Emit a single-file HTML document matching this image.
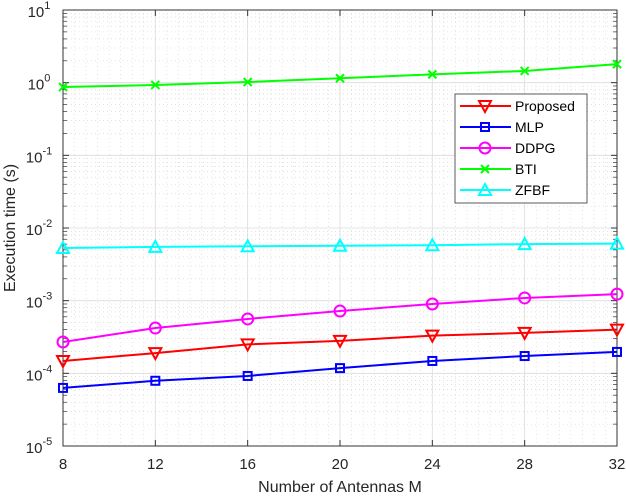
<!DOCTYPE html>
<html><head><meta charset="utf-8"><style>
body{margin:0;background:#fff;font-family:"Liberation Sans",sans-serif}
svg text{font-family:"Liberation Sans",sans-serif}
</style></head><body>
<svg id="chart" width="626" height="498" xmlns="http://www.w3.org/2000/svg"></svg>
<script>
const antennas=[8,12,16,20,24,28,32];
const proposed=[1.48e-4,1.9e-4,2.5e-4,2.8e-4,3.3e-4,3.6e-4,4.0e-4];
const mlp=[6.3e-5,7.9e-5,9.2e-5,1.18e-4,1.48e-4,1.73e-4,1.97e-4];
const ddpg=[2.7e-4,4.2e-4,5.6e-4,7.2e-4,9.0e-4,1.09e-3,1.23e-3];
const bti=[0.87,0.93,1.02,1.15,1.3,1.45,1.8];
const zfbf=[5.3e-3,5.5e-3,5.6e-3,5.7e-3,5.8e-3,6.0e-3,6.1e-3];
const yExps=[-5,-4,-3,-2,-1,0,1];
const seriesNames=["Proposed","MLP","DDPG","BTI","ZFBF"];

const svg=document.getElementById('chart');
const NS="http://www.w3.org/2000/svg";
const L=63,R=617,T=10,B=446;
const xs=v=>L+(v-8)/(32-8)*(R-L);
const ys=v=>B-(Math.log10(v)+5)/6*(B-T);
function mk(tag,attrs,parent){const e=document.createElementNS(NS,tag);for(const k in attrs)e.setAttribute(k,attrs[k]);(parent||svg).appendChild(e);return e;}

const grid=mk('g',{});


for(let v=8;v<=32.001;v+=0.5){const x=xs(v);const major=Math.abs(v%4)<1e-6;
 mk('line',{x1:x,x2:x,y1:T,y2:B,stroke:major?'#dcdcdc':'#d0d0d0','stroke-width':major?0.8:0.6,'stroke-dasharray':major?'':'1,3'},grid);}
for(let e=-5;e<1;e++){for(let m=1;m<10;m++){const y=ys(m*Math.pow(10,e));
 mk('line',{x1:L,x2:R,y1:y,y2:y,stroke:m==1?'#dcdcdc':'#d0d0d0','stroke-width':m==1?0.8:0.6,'stroke-dasharray':m==1?'':'1,3'},grid);
 if(m>1){mk('line',{x1:L,x2:L+4,y1:y,y2:y,stroke:'#333','stroke-width':0.7});mk('line',{x1:R,x2:R-4,y1:y,y2:y,stroke:'#333','stroke-width':0.7});}}}
mk('rect',{x:L,y:T,width:R-L,height:B-T,fill:'none',stroke:'#333','stroke-width':1});

antennas.forEach(a=>{const x=xs(a);
 mk('line',{x1:x,x2:x,y1:B,y2:B-6,stroke:'#333'});mk('line',{x1:x,x2:x,y1:T,y2:T+6,stroke:'#333'});
 const t=mk('text',{x:x,y:B+23,'text-anchor':'middle','font-size':15,fill:'#262626'});t.textContent=a;
 
 });
yExps.forEach(e=>{const y=ys(Math.pow(10,e));
 mk('line',{x1:L,x2:L+6,y1:y,y2:y,stroke:'#333'});mk('line',{x1:R,x2:R-6,y1:y,y2:y,stroke:'#333'});
 const t=mk('text',{x:L-24,y:y+7,'text-anchor':'middle','font-size':15,fill:'#262626'});
 t.innerHTML='10<tspan dy="-8" font-size="11">'+e+'</tspan>';
 
 });

const xt=mk('text',{x:(L+R)/2,y:492,'text-anchor':'middle','font-size':16,fill:'#262626'});xt.textContent='Number of Antennas M';


const yt=mk('text',{x:0,y:0,transform:'translate(15,228) rotate(-90)','text-anchor':'middle','font-size':16,fill:'#262626'});yt.textContent='Execution time (s)';



function marker(type,x,y,c,p){
 if(type=='tri-down')mk('polygon',{points:`${x-6},${y-5} ${x+6},${y-5} ${x},${y+6}`,fill:'none',stroke:c,'stroke-width':2},p);
 else if(type=='square')mk('rect',{x:x-4,y:y-4,width:8,height:8,fill:'none',stroke:c,'stroke-width':2},p);
 else if(type=='circle')mk('circle',{cx:x,cy:y,r:5.5,fill:'none',stroke:c,'stroke-width':2},p);
 else if(type=='x'){mk('line',{x1:x-4,y1:y-4,x2:x+4,y2:y+4,stroke:c,'stroke-width':2},p);mk('line',{x1:x-4,y1:y+4,x2:x+4,y2:y-4,stroke:c,'stroke-width':2},p);}
 else if(type=='tri-up')mk('polygon',{points:`${x-6},${y+5} ${x+6},${y+5} ${x},${y-6}`,fill:'none',stroke:c,'stroke-width':2},p);
}
const all=[[proposed,'#ff0000','tri-down','series-proposed'],[mlp,'#0000ff','square','series-mlp'],[ddpg,'#ff00ff','circle','series-ddpg'],[bti,'#00ff00','x','series-bti'],[zfbf,'#00ffff','tri-up','series-zfbf']];
all.forEach(([d,c,m,n])=>{const g=mk('g',{});
 
 
 mk('polyline',{points:d.map((v,i)=>xs(antennas[i])+','+ys(v)).join(' '),fill:'none',stroke:c,'stroke-width':2},g);
 d.forEach((v,i)=>marker(m,xs(antennas[i]),ys(v),c,g));});

const lg=mk('g',{});


mk('rect',{x:455,y:94,width:132,height:109,fill:'#fff',stroke:'#333','stroke-width':0.8},lg);
all.forEach(([d,c,m,n],i)=>{const y=106+i*21;
 const e=mk('g',{},lg);
 
 
 mk('line',{x1:460,x2:511,y1:y,y2:y,stroke:c,'stroke-width':2},e);marker(m,485,y,c,e);
 const t=mk('text',{x:515,y:y+5,'font-size':14,fill:'#000'},e);t.textContent=seriesNames[i];});
</script>
</body></html>
